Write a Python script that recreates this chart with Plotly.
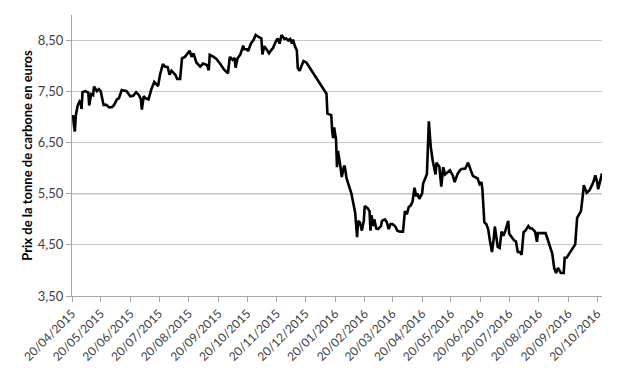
import pandas as pd
import plotly.graph_objects as go

# Days elapsed since 20/04/2015 (trading days)
start_date = "2015-04-20"
day_offsets = [
    0, 1, 2, 3, 4, 6, 8, 9, 10, 11, 14, 17, 18, 20, 22, 23, 26, 28, 30, 31,
    33, 36, 39, 42, 44, 47, 49, 52, 55, 57, 61, 64, 67, 70, 72, 73, 75, 77, 80, 83,
    86, 88, 90, 92, 95, 97, 100, 102, 104, 108, 110, 113, 115, 118, 121, 123, 125, 127, 130, 134,
    137, 141, 143, 144, 148, 151, 155, 159, 163, 165, 168, 170, 171, 173, 176, 179, 180, 183, 184, 187,
    190, 192, 196, 198, 199, 201, 204, 206, 208, 210, 213, 215, 217, 219, 222, 224, 226, 228, 230, 231,
    233, 235, 236, 238, 239, 242, 245, 266, 267, 268, 271, 272, 273, 274, 276, 277, 278, 280, 282, 284,
    285, 287, 289, 291, 292, 294, 296, 298, 299, 301, 303, 305, 306, 309, 311, 312, 313, 315, 316, 318,
    320, 323, 324, 327, 329, 331, 333, 335, 338, 340, 343, 346, 347, 348, 350, 352, 354, 356, 358, 360,
    361, 363, 366, 367, 370, 371, 373, 375, 377, 380, 381, 384, 386, 388, 390, 392, 395, 398, 400, 403,
    406, 408, 411, 414, 417, 419, 421, 424, 426, 428, 429, 431, 433, 435, 437, 439, 441, 442, 445, 447,
    449, 451, 453, 456, 457, 460, 462, 464, 466, 468, 470, 472, 474, 477, 479, 481, 484, 486, 487, 491,
    495, 497, 500, 502, 504, 506, 508, 510, 511, 514, 515, 517, 520, 523, 524, 526, 528, 529, 532, 534,
    535, 538, 541, 543, 545, 547, 549, 550, 552, 554,
]
prices = [
    6.95, 7.04, 6.85, 6.72, 7.04, 7.23, 7.31, 7.29, 7.16, 7.49, 7.51, 7.48, 7.23, 7.45, 7.43, 7.60, 7.51, 7.55, 7.51, 7.41,
    7.24, 7.24, 7.19, 7.20, 7.24, 7.35, 7.37, 7.53, 7.51, 7.51, 7.41, 7.42, 7.49, 7.43, 7.35, 7.15, 7.41, 7.37, 7.35, 7.55,
    7.69, 7.64, 7.61, 7.83, 8.04, 7.99, 7.98, 7.83, 7.91, 7.83, 7.75, 7.75, 8.15, 8.18, 8.25, 8.30, 8.18, 8.25, 8.07, 7.99,
    8.05, 8.02, 7.92, 8.22, 8.18, 8.14, 8.04, 7.93, 7.86, 8.18, 8.12, 8.16, 7.97, 8.15, 8.23, 8.40, 8.33, 8.33, 8.29, 8.44,
    8.52, 8.61, 8.56, 8.54, 8.23, 8.39, 8.31, 8.25, 8.31, 8.35, 8.48, 8.54, 8.44, 8.61, 8.53, 8.54, 8.50, 8.53, 8.44, 8.52,
    8.39, 8.31, 7.96, 7.91, 7.96, 8.10, 8.07, 7.46, 7.07, 7.06, 7.04, 6.72, 6.59, 6.80, 6.56, 6.02, 6.34, 6.11, 5.83, 6.02,
    6.05, 5.80, 5.69, 5.57, 5.51, 5.32, 5.13, 4.65, 4.97, 4.94, 4.78, 4.97, 5.26, 5.22, 5.16, 4.78, 5.08, 4.87, 5.00, 4.82,
    4.81, 4.87, 4.97, 5.00, 4.95, 4.81, 4.91, 4.91, 4.86, 4.78, 4.76, 4.76, 5.03, 5.16, 5.10, 5.24, 5.27, 5.35, 5.62, 5.45,
    5.51, 5.40, 5.51, 5.70, 5.84, 5.89, 6.92, 6.42, 6.15, 5.88, 6.11, 6.03, 5.64, 6.02, 5.88, 5.92, 5.96, 5.86, 5.73, 5.89,
    5.97, 5.99, 5.99, 6.11, 5.95, 5.85, 5.83, 5.80, 5.69, 5.73, 5.58, 4.94, 4.91, 4.81, 4.56, 4.36, 4.65, 4.86, 4.46, 4.44,
    4.76, 4.68, 4.78, 4.97, 4.72, 4.65, 4.59, 4.57, 4.36, 4.36, 4.31, 4.75, 4.78, 4.87, 4.82, 4.82, 4.76, 4.56, 4.73, 4.73,
    4.73, 4.62, 4.46, 4.33, 4.05, 3.95, 4.05, 3.98, 3.95, 3.95, 4.25, 4.25, 4.33, 4.42, 4.46, 4.51, 5.03, 5.06, 5.16, 5.48,
    5.67, 5.52, 5.57, 5.65, 5.73, 5.86, 5.73, 5.59, 5.76, 5.90,
]

x_tick_dates = [
    "2015-04-20", "2015-05-20", "2015-06-20", "2015-07-20", "2015-08-20", "2015-09-20",
    "2015-10-20", "2015-11-20", "2015-12-20", "2016-01-20", "2016-02-20", "2016-03-20",
    "2016-04-20", "2016-05-20", "2016-06-20", "2016-07-20", "2016-08-20", "2016-09-20",
    "2016-10-20",
]
x_tick_labels = [
    "20/04/2015", "20/05/2015", "20/06/2015", "20/07/2015", "20/08/2015", "20/09/2015",
    "20/10/2015", "20/11/2015", "20/12/2015", "20/01/2016", "20/02/2016", "20/03/2016",
    "20/04/2016", "20/05/2016", "20/06/2016", "20/07/2016", "20/08/2016", "20/09/2016",
    "20/10/2016",
]
y_tick_values = [3.5, 4.5, 5.5, 6.5, 7.5, 8.5]
y_tick_labels = ["3,50", "4,50", "5,50", "6,50", "7,50", "8,50"]
y_title = "Prix de la tonne de carbone en euros"

dates = pd.Timestamp(start_date) + pd.to_timedelta(day_offsets, unit="D")

FONT = "Lato, 'Open Sans', sans-serif"

fig = go.Figure()
fig.add_trace(go.Scatter(
    x=dates, y=prices, mode="lines",
    line=dict(color="black", width=2.6),
    hoverinfo="skip", showlegend=False,
))

fig.add_shape(type="line", xref="paper", yref="y", x0=0, x1=1, y0=5.5, y1=5.5,
              line=dict(color="#8C8C8C", width=1), layer="below")

fig.update_layout(
    width=627, height=376,
    margin=dict(l=72, r=25, t=15, b=74),
    paper_bgcolor="white", plot_bgcolor="white",
    font=dict(family=FONT, color="#404040", size=12),
    xaxis=dict(
        type="date",
        range=[dates[0], dates[-1]],
        tickmode="array", tickvals=x_tick_dates, ticktext=x_tick_labels,
        tickangle=-45, tickfont=dict(size=12, color="#404040"),
        showgrid=False, zeroline=False,
        showline=True, linecolor="#A6A6A6", linewidth=1,
        ticks="outside", ticklen=5, tickcolor="#A6A6A6",
    ),
    yaxis=dict(
        range=[3.5, 9.0],
        tickmode="array", tickvals=y_tick_values, ticktext=y_tick_labels,
        tickfont=dict(size=13, color="#404040"),
        showgrid=True, gridcolor="#C8C8C8", gridwidth=1,
        zeroline=False,
        showline=True, linecolor="#A6A6A6", linewidth=1,
        ticks="outside", ticklen=5, tickcolor="#A6A6A6",
        title=dict(text="<b>" + y_title + "</b>", font=dict(size=13, color="black"), standoff=2),
    ),
)

fig.write_html("out.html")
